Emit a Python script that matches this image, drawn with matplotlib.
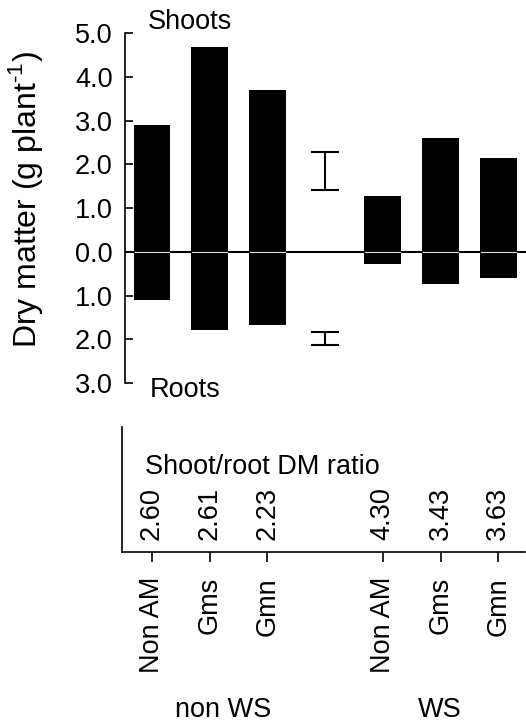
import matplotlib.pyplot as plt

plt.rcParams['font.family'] = ['Liberation Sans', 'DejaVu Sans']
plt.rcParams['mathtext.fontset'] = 'custom'
plt.rcParams['mathtext.rm'] = 'Liberation Sans'

# treatments in plot order (position 3 is left free for the LSD bars)
treatments = ['Non AM', 'Gms', 'Gmn', 'Non AM', 'Gms', 'Gmn']
positions = [0, 1, 2, 4, 5, 6]
groups = ['non WS', 'WS']

# dry matter, g per plant
shoot_dm = [2.90, 4.68, 3.70, 1.27, 2.59, 2.14]
root_dm = [1.10, 1.78, 1.67, 0.27, 0.73, 0.59]

# LSD bars (centre, half length)
lsd_pos = 3
lsd_shoot = (1.84, 0.43)
lsd_root = (-1.98, 0.14)

ratios = ['2.60', '2.61', '2.23', '4.30', '3.43', '3.63']

y_ticks = [-3, -2, -1, 0, 1, 2, 3, 4, 5]

W, H = 526, 722
FS = 19.5

fig = plt.figure(figsize=(W / 100, H / 100), dpi=100)

# ---- upper panel: shoots up, roots down
px0, px_step = 152, 57.7
def to_x(px):
    return (px - px0) / px_step

ax = fig.add_axes([125 / W, 1 - 383 / H, (526 - 125) / W, (383 - 33) / H])
ax.set_xlim(to_x(125), to_x(526))
ax.set_ylim(-3, 5)

ax.axhline(0, color='black', lw=1.5, zorder=1)
ax.bar(positions, [s + r for s, r in zip(shoot_dm, root_dm)],
       bottom=[-r for r in root_dm], width=0.64, color='black', zorder=2)
for p in positions:
    ax.plot([p - 0.3, p + 0.3], [0, 0], color='#dddddd', lw=0.8, zorder=3)

for c, h in (lsd_shoot, lsd_root):
    ax.errorbar(lsd_pos, c, yerr=h, fmt='none', ecolor='black',
                elinewidth=1.5, capsize=10, capthick=1.5)

for side in ['top', 'right', 'bottom']:
    ax.spines[side].set_visible(False)
ax.spines['left'].set_linewidth(1.2)
ax.set_xticks([])
ax.set_yticks(y_ticks)
ax.set_yticklabels(['%.1f' % abs(v) for v in y_ticks], fontsize=FS)
ax.tick_params(axis='y', direction='in', length=6, width=1.2, pad=9)

fig.text(148 / W, 1 - 22 / H, 'Shoots', fontsize=FS, ha='left', va='center')
fig.text(150 / W, 1 - 390 / H, 'Roots', fontsize=FS, ha='left', va='center')
fig.text(26 / W, 1 - 200 / H, 'Dry matter (g plant$^{\\text{-1}}$)', fontsize=23,
         rotation=90, ha='center', va='center')

# ---- lower panel: shoot/root ratio and treatment labels
ax2 = fig.add_axes([122 / W, 1 - 552 / H, (525 - 122) / W, (552 - 427) / H])
ax2.set_xlim(to_x(122), to_x(525))
ax2.set_ylim(0, 1)
for side in ['top', 'right']:
    ax2.spines[side].set_visible(False)
ax2.spines['left'].set_linewidth(1.2)
ax2.spines['bottom'].set_linewidth(1.2)
ax2.set_yticks([])
ax2.set_xticks(positions)
ax2.set_xticklabels(treatments, rotation=90, fontsize=FS)
ax2.tick_params(axis='x', direction='out', length=7, width=1.2, pad=11)

ax2.text(to_x(145), 0.68, 'Shoot/root DM ratio', fontsize=FS, ha='left', va='center')
for p, r in zip(positions, ratios):
    ax2.text(p, 0.31, r, fontsize=FS, rotation=90, ha='center', va='center')

fig.text(223 / W, 1 - 710 / H, groups[0], fontsize=FS, ha='center', va='center')
fig.text(440 / W, 1 - 710 / H, groups[1], fontsize=FS, ha='center', va='center')

fig.savefig('out.png', dpi=100)
